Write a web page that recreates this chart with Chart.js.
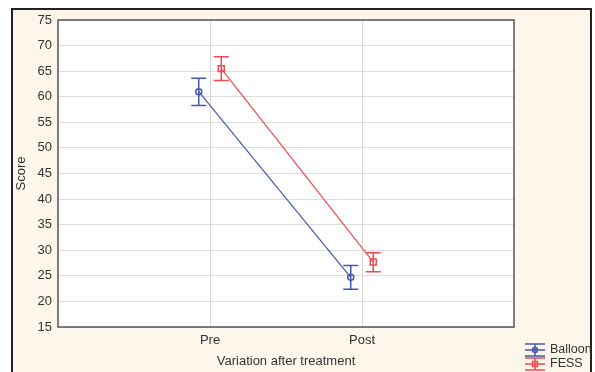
<!DOCTYPE html>
<html><head><meta charset="utf-8">
<script src="https://cdn.jsdelivr.net/npm/chart.js@4/dist/chart.umd.min.js"></script>
<style>html,body{margin:0;padding:0;background:#fff}#c{display:block}</style>
</head><body>
<canvas id="c" width="595" height="372"></canvas>
<script>
// ---- data ----
const categories = ['Pre', 'Post'];
const xTickLabels = ['', 'Pre', 'Post', ''];
const seriesNames = ['Balloon', 'FESS'];
const balloonMean = [61.0, 24.7];
const balloonLow  = [58.3, 22.4];
const balloonHigh = [63.6, 27.0];
const fessMean = [65.5, 27.7];
const fessLow  = [63.2, 25.8];
const fessHigh = [67.8, 29.5];
const yMin = 15, yMax = 75, yStep = 5;

// ---- style ----
const BLUE = '#4657b0', RED = '#f04a50';
const OFFSET = 0.074;
const FONT = 'Arial, "Liberation Sans", sans-serif';

function pts(mean, shift) {
  return categories.map((c, i) => ({x: i + 1 + shift, y: mean[i]}));
}
const errData = [
  {low: balloonLow, high: balloonHigh, color: BLUE},
  {low: fessLow, high: fessHigh, color: RED}
];

const framePlugin = {
  id: 'frame',
  beforeDraw(chart) {
    const ctx = chart.ctx, a = chart.chartArea;
    ctx.save();
    ctx.fillStyle = '#ffffff';
    ctx.fillRect(0, 0, chart.width, chart.height);
    ctx.fillStyle = '#fcf7ea';
    ctx.fillRect(12, 8, 580, 380);
    ctx.strokeStyle = '#222';
    ctx.lineWidth = 2;
    ctx.strokeRect(12, 9, 579, 380);
    ctx.fillStyle = '#ffffff';
    ctx.fillRect(a.left, a.top, a.right - a.left, a.bottom - a.top);
    ctx.restore();
  },
  afterDatasetsDraw(chart) {
    const ctx = chart.ctx, a = chart.chartArea;
    const xs = chart.scales.x, ys = chart.scales.y;
    ctx.save();
    // error bars
    chart.data.datasets.forEach((ds, di) => {
      const e = errData[di];
      ctx.strokeStyle = e.color;
      ctx.lineWidth = 1.5;
      ds.data.forEach((p, i) => {
        const x = xs.getPixelForValue(p.x);
        const yl = ys.getPixelForValue(e.low[i]);
        const yh = ys.getPixelForValue(e.high[i]);
        ctx.beginPath();
        ctx.moveTo(x, yl); ctx.lineTo(x, yh);
        ctx.moveTo(x - 7.5, yl); ctx.lineTo(x + 7.5, yl);
        ctx.moveTo(x - 7.5, yh); ctx.lineTo(x + 7.5, yh);
        ctx.stroke();
      });
    });
    // plot box
    ctx.strokeStyle = '#555';
    ctx.lineWidth = 1.5;
    ctx.strokeRect(a.left, a.top, a.right - a.left, a.bottom - a.top);
    ctx.restore();
  },
  afterDraw(chart) {
    const ctx = chart.ctx;
    ctx.save();
    const colors = [BLUE, RED];
    seriesNames.forEach((name, i) => {
      const cy = 350 + i * 14;
      const x0 = 525, x1 = 545, xm = 535;
      ctx.strokeStyle = colors[i];
      ctx.lineWidth = 1.5;
      ctx.beginPath();
      ctx.moveTo(x0, cy - 6); ctx.lineTo(x1, cy - 6);
      ctx.moveTo(x0, cy); ctx.lineTo(x1, cy);
      ctx.moveTo(x0, cy + 6); ctx.lineTo(x1, cy + 6);
      ctx.moveTo(xm, cy - 6); ctx.lineTo(xm, cy + 6);
      ctx.stroke();
      ctx.beginPath();
      if (i === 0) ctx.arc(xm, cy, 2.5, 0, Math.PI * 2);
      else ctx.rect(xm - 2.5, cy - 2.5, 5, 5);
      ctx.stroke();
      ctx.fillStyle = '#333';
      ctx.font = '12.5px ' + FONT;
      ctx.textBaseline = 'middle';
      ctx.textAlign = 'left';
      ctx.fillText(name, 550, cy);
    });
    ctx.restore();
  }
};

new Chart(document.getElementById('c'), {
  type: 'line',
  data: {
    datasets: [
      {label: seriesNames[0], data: pts(balloonMean, -OFFSET), borderColor: BLUE, borderWidth: 1.2,
       pointStyle: 'circle', pointRadius: 3, pointBorderColor: BLUE, pointBackgroundColor: 'rgba(0,0,0,0)', pointBorderWidth: 1.5},
      {label: seriesNames[1], data: pts(fessMean, OFFSET), borderColor: RED, borderWidth: 1.2,
       pointStyle: 'rect', pointRadius: 4.2, pointBorderColor: RED, pointBackgroundColor: 'rgba(0,0,0,0)', pointBorderWidth: 1.5}
    ]
  },
  options: {
    responsive: false,
    animation: false,
    devicePixelRatio: 1,
    layout: {padding: {left: 0, top: 20, right: 81, bottom: 0}},
    plugins: {legend: {display: false}, tooltip: {enabled: false}},
    scales: {
      x: {
        type: 'linear', min: 0, max: 3,
        afterFit(s) { s.height = 45; },
        ticks: {stepSize: 1, autoSkip: false, padding: 6, color: '#333', font: {size: 13, family: FONT},
                callback: v => xTickLabels[v] ?? ''},
        grid: {drawTicks: false, color: ctx => (ctx.tick && (ctx.tick.value === 1 || ctx.tick.value === 2)) ? '#d8d8d8' : 'rgba(0,0,0,0)'},
        border: {display: false},
        title: {display: true, text: 'Variation after treatment', color: '#333', font: {size: 13, family: FONT}, padding: {top: 0, bottom: 3}}
      },
      y: {
        min: yMin, max: yMax,
        afterFit(s) { s.width = 58; },
        ticks: {stepSize: yStep, padding: 6, color: '#333', font: {size: 13, family: FONT}},
        grid: {drawTicks: false, color: '#dcdcdc'},
        border: {display: false},
        title: {display: true, text: 'Score', color: '#333', font: {size: 13, family: FONT}, padding: {top: 14, bottom: 0}}
      }
    }
  },
  plugins: [framePlugin]
});
</script>
</body></html>
